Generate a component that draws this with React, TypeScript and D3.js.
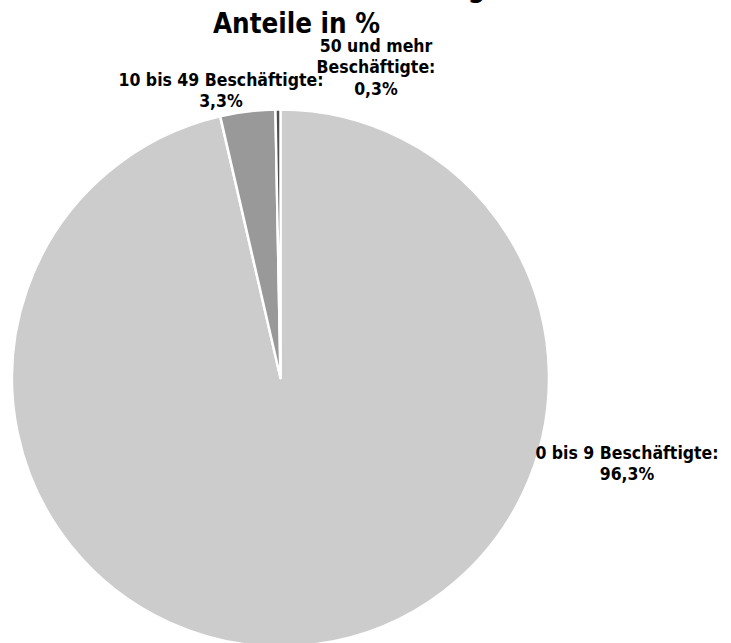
import React from "react";
import * as d3 from "d3";

const categories = ["0 bis 9 Beschäftigte:", "10 bis 49 Beschäftigte:", "50 und mehr Beschäftigte:"];
const values = [96.3, 3.3, 0.3];
const valueLabels = ["96,3%", "3,3%", "0,3%"];
const colors = ["#cccccc", "#999999", "#4f4f4f"];
const titleLines = ["Unternehmen — Verteilung", "Anteile in %"];

const W = 731;
const H = 643;
const cx = 280.5;
const cy = 378;
const R = 268.5;
const titleX = 296.5;
const FONT = "'DejaVu Sans Condensed', 'DejaVu Sans', sans-serif";

const labelLines: string[][] = [
  [categories[0], valueLabels[0]],
  [categories[1], valueLabels[1]],
  ["50 und mehr", "Beschäftigte:", valueLabels[2]],
];
const labelPos = [
  { x: 627, y: 458.5 },
  { x: 221, y: 85.5 },
  { x: 376, y: 51.5 },
];

export default function App() {
  const pie = d3.pie<number>().sort(null).value((d) => d);
  const arcs = pie(values);
  const arc = d3.arc<d3.PieArcDatum<number>>().innerRadius(0).outerRadius(R);

  return (
    <svg
      width={W}
      height={H}
      style={{ position: "absolute", left: 0, top: 0, background: "#fff" }}
      fontFamily={FONT}
      fontStretch="condensed"
    >
      <rect width={W} height={H} fill="#fff" />
      <g transform={`translate(${cx},${cy})`}>
        {arcs.map((a, i) => (
          <path key={i} d={arc(a) || ""} fill={colors[i]} stroke="#fff" strokeWidth={2.5} strokeLinejoin="round" />
        ))}
      </g>
      <text x={titleX} y={-3.5} textAnchor="middle" fontSize={27.5} fontWeight="bold" fill="#000">
        {titleLines[0]}
      </text>
      <text x={titleX} y={32.5} textAnchor="middle" fontSize={27.5} fontWeight="bold" fill="#000">
        {titleLines[1]}
      </text>
      {labelLines.map((lines, i) => (
        <text key={i} x={labelPos[i].x} y={labelPos[i].y} textAnchor="middle" fontSize={17.5} fontWeight="bold" fill="#000">
          {lines.map((l, j) => (
            <tspan key={j} x={labelPos[i].x} dy={j === 0 ? 0 : 21.5}>
              {l}
            </tspan>
          ))}
        </text>
      ))}
    </svg>
  );
}
